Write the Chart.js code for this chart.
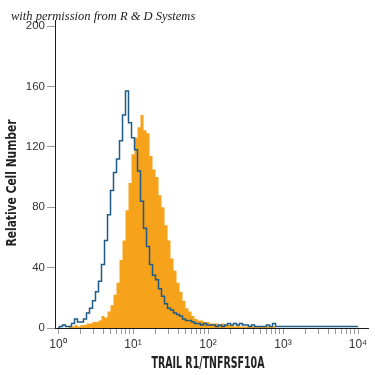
<!DOCTYPE html>
<html>
<head>
<meta charset="utf-8">
<script src="https://cdn.jsdelivr.net/npm/chart.js@4.4.1/dist/chart.umd.min.js"></script>
<style>
    html, body { margin: 0; padding: 0; background: #fff; }
    #wrap { position: relative; width: 375px; height: 375px; }
</style>
</head>
<body>
<div id="wrap"><canvas id="histChart" width="375" height="375"></canvas></div>
<script>
// ── Data (channels every 0.04 decade from 10^0) ──
const CHANNEL_STEP = 0.04;

// isotype control (blue outline)
const controlCounts = [
    0, 1, 2, 1, 1, 3, 6, 4, 4, 6,
    10, 13, 18, 24, 31, 42, 58, 75, 91, 103,
    112, 124, 141, 157, 136, 126, 118, 104, 84, 66,
    54, 42, 35, 32, 26, 21, 16, 13, 12, 10,
    9, 8, 6, 5, 5, 4, 3, 3, 2, 3,
    2, 2, 2, 1, 2, 1, 2, 3, 2, 3,
    2, 3, 2, 2, 1, 2, 1, 1, 1, 1,
    2, 1, 3, 1, 1, 1, 1, 1, 1, 1,
    1, 1, 1, 1, 1, 1, 1, 1, 1, 1,
    1, 1, 1, 1, 1, 1, 1, 1, 1, 1,
    1
];

// TRAIL R1 stained (orange fill)
const stainedCounts = [
    0, 0, 0, 0, 1, 1, 2, 1, 2, 2,
    3, 3, 4, 4, 5, 8, 7, 11, 15, 22,
    30, 45, 58, 78, 96, 115, 126, 133, 141, 131,
    129, 114, 105, 100, 88, 80, 68, 58, 46, 38,
    30, 24, 18, 13, 11, 8, 6, 5, 5, 4,
    4, 3, 3, 3, 2, 3, 2, 2, 2, 1,
    2, 1, 1, 1, 1, 1, 1, 1, 1, 1,
    1, 1, 1, 0, 0, 0, 0, 0, 0, 0,
    0, 0, 0, 0, 0, 0, 0, 0, 0, 0,
    0, 0, 0, 0, 0, 0, 0, 0, 0, 0,
    0
];

const decadeLabels = ['10\u2070', '10\u00b9', '10\u00b2', '10\u00b3', '10\u2074'];
const yTicks = [0, 40, 80, 120, 160, 200];
const X_TITLE = 'TRAIL R1/TNFRSF10A';
const Y_TITLE = 'Relative Cell Number';

const COLORS = {
    control: '#1f5b86',
    stained: '#f7a21b',
    text: '#333333',
    tick: '#999999',
    axis: '#1a1a1a',
};

const SANS = "'DejaVu Sans', sans-serif";
const TICK_FONT = "'Liberation Sans', Arial, sans-serif";

// ── Helpers ──
const toPoints = counts => counts.map((v, i) => ({ x: i * CHANNEL_STEP, y: v }));

// log-decade tick positions: 1..9 x 10^n
const logTickPositions = [];
for (let n = 0; n < 4; n++) {
    for (let k = 1; k < 10; k++) logTickPositions.push(n + Math.log10(k));
}
logTickPositions.push(4);

// squeeze text horizontally to mimic the condensed face of the original
function drawCondensed(ctx, text, cx, cy, font, width, angle) {
    ctx.save();
    ctx.font = font;
    const k = width / ctx.measureText(text).width;
    ctx.translate(cx, cy);
    ctx.rotate(angle);
    ctx.scale(k, 1);
    ctx.textAlign = 'center';
    ctx.textBaseline = 'middle';
    ctx.fillText(text, 0, 0);
    ctx.restore();
}

// axis titles + watermark
const annotations = {
    id: 'annotations',
    afterDraw(chart) {
        const ctx = chart.ctx;
        ctx.save();
        ctx.fillStyle = '#222';
        drawCondensed(ctx, X_TITLE, 208, 364, `bold 15px ${SANS}`, 113, 0);
        drawCondensed(ctx, Y_TITLE, 12, 183, `bold 14px ${SANS}`, 127, -Math.PI / 2);

        ctx.font = "italic 12.5px 'Liberation Serif', 'DejaVu Serif', serif";
        ctx.fillStyle = '#1a1a1a';
        ctx.textBaseline = 'alphabetic';
        ctx.fillText('with permission from R & D Systems', 11, 20);
        ctx.restore();
    }
};

// ── Chart ──
new Chart(document.getElementById('histChart').getContext('2d'), {
    type: 'line',
    data: {
        datasets: [
            {
                label: 'Isotype control',
                data: toPoints(controlCounts),
                borderColor: COLORS.control,
                borderWidth: 1.5,
                stepped: 'middle',
                pointRadius: 0,
                fill: false,
            },
            {
                label: 'TRAIL R1',
                data: toPoints(stainedCounts),
                borderColor: COLORS.stained,
                backgroundColor: COLORS.stained,
                borderWidth: 0,
                stepped: 'middle',
                pointRadius: 0,
                fill: 'origin',
            }
        ]
    },
    options: {
        responsive: false,
        animation: false,
        devicePixelRatio: 1,
        layout: { padding: { top: 20, right: 7, left: 0, bottom: 0 } },
        plugins: {
            legend: { display: false },
            tooltip: { enabled: false },
        },
        scales: {
            x: {
                type: 'linear',
                min: -0.04,
                max: 4.133,
                afterBuildTicks: s => { s.ticks = logTickPositions.map(v => ({ value: v })); },
                afterFit: s => { s.height = 47; },
                ticks: {
                    autoSkip: false,
                    maxRotation: 0,
                    padding: 3,
                    color: COLORS.text,
                    font: { family: TICK_FONT, size: 12 },
                    callback: v => {
                        const r = Math.round(v);
                        return Math.abs(v - r) < 1e-9 ? decadeLabels[r] : '';
                    }
                },
                grid: { drawOnChartArea: false, drawTicks: true, tickLength: 6, color: COLORS.tick },
                border: { color: COLORS.axis, width: 1 },
            },
            y: {
                min: 0,
                max: 204,
                afterBuildTicks: s => { s.ticks = yTicks.map(v => ({ value: v })); },
                afterFit: s => { s.width = 55; },
                ticks: {
                    padding: 2,
                    color: COLORS.text,
                    font: { family: TICK_FONT, size: 11.5 },
                },
                grid: { drawOnChartArea: false, drawTicks: true, tickLength: 8, color: COLORS.tick },
                border: { color: COLORS.axis, width: 1 },
            }
        }
    },
    plugins: [annotations]
});
</script>
</body>
</html>
